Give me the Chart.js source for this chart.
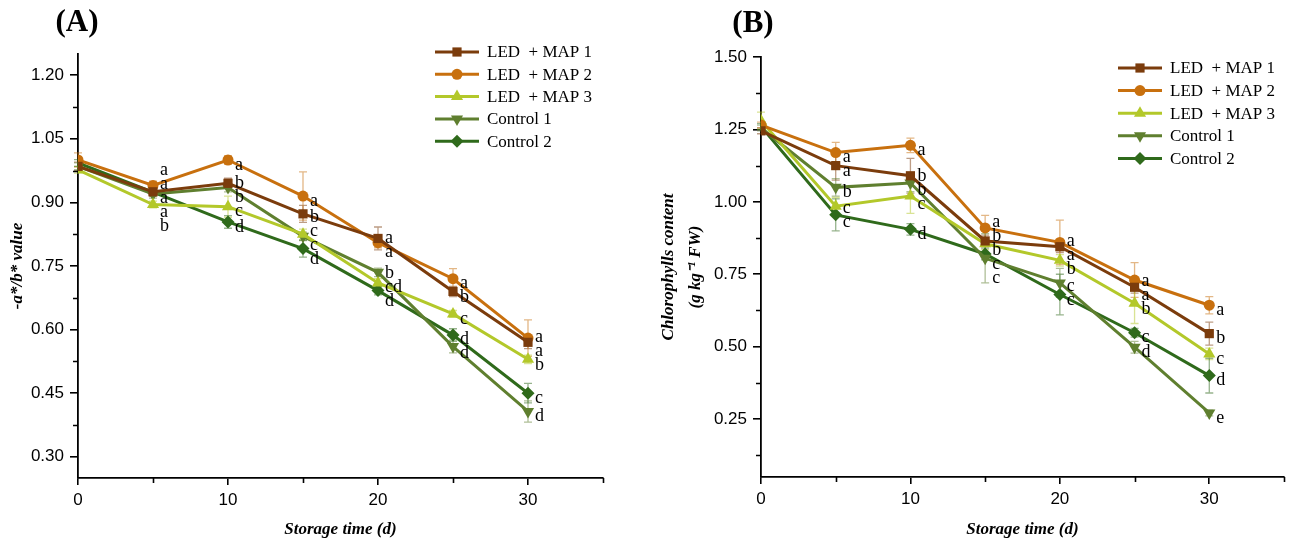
<!DOCTYPE html>
<html>
<head>
<meta charset="utf-8">
<script src="https://cdn.jsdelivr.net/npm/chart.js@4"></script>
<style>
  body { margin: 0; background: #fff; }
  #wrap { position: relative; width: 1291px; height: 544px; }
  canvas { position: absolute; top: 0; }
  #chartA { left: 0; }
  #chartB { left: 645px; }
</style>
</head>
<body>
<div id="wrap">
  <canvas id="chartA" width="645" height="544"></canvas>
  <canvas id="chartB" width="646" height="544"></canvas>
</div>
<script>
const days = [0, 5, 10, 15, 20, 25, 30];
const seriesNames = ['LED  + MAP 1', 'LED  + MAP 2', 'LED  + MAP 3', 'Control 1', 'Control 2'];

// (A) -a*/b* value
const aMap1 = [0.985, 0.925, 0.945, 0.873, 0.815, 0.69, 0.57];
const aMap2 = [1.00, 0.94, 1.00, 0.915, 0.805, 0.72, 0.58];
const aMap3 = [0.977, 0.895, 0.89, 0.825, 0.71, 0.637, 0.53];
const aCtl1 = [0.985, 0.92, 0.935, 0.82, 0.735, 0.56, 0.407];
const aCtl2 = [0.993, 0.924, 0.854, 0.791, 0.692, 0.587, 0.45];
const aMap1Err = [0.01, 0.01, 0.012, 0.02, 0.027, 0.012, 0.015];
const aMap2Err = [0.017, 0.01, 0.01, 0.057, 0.012, 0.024, 0.043];
const aMap3Err = [0.008, 0.008, 0.025, 0.012, 0.01, 0.008, 0.01];
const aCtl1Err = [0.008, 0.01, 0.01, 0.01, 0.01, 0.015, 0.025];
const aCtl2Err = [0.008, 0.008, 0.015, 0.02, 0.01, 0.015, 0.023];
const aMap1Sig = ['', 'a', 'b', 'b', 'a', 'b', 'a'];
const aMap2Sig = ['', 'a', 'a', 'a', 'a', 'a', 'a'];
const aMap3Sig = ['', 'b', 'c', 'c', 'cd', 'c', 'b'];
const aCtl1Sig = ['', 'a', 'b', 'c', 'b', 'd', 'd'];
const aCtl2Sig = ['', 'a', 'd', 'd', 'd', 'd', 'c'];
const aTicks = [0.30, 0.45, 0.60, 0.75, 0.90, 1.05, 1.20];

// (B) chlorophylls content
const bMap1 = [1.245, 1.125, 1.09, 0.865, 0.845, 0.705, 0.545];
const bMap2 = [1.265, 1.17, 1.195, 0.91, 0.86, 0.73, 0.643];
const bMap3 = [1.28, 0.985, 1.02, 0.855, 0.798, 0.65, 0.475];
const bCtl1 = [1.255, 1.05, 1.065, 0.805, 0.72, 0.498, 0.271];
const bCtl2 = [1.26, 0.955, 0.905, 0.82, 0.68, 0.548, 0.40];
const bMap1Err = [0.01, 0.05, 0.06, 0.02, 0.02, 0.02, 0.04];
const bMap2Err = [0.01, 0.035, 0.025, 0.043, 0.077, 0.06, 0.03];
const bMap3Err = [0.03, 0.03, 0.06, 0.02, 0.02, 0.07, 0.02];
const bCtl1Err = [0.01, 0.03, 0.03, 0.085, 0.05, 0.02, 0.01];
const bCtl2Err = [0.01, 0.055, 0.02, 0.02, 0.07, 0.015, 0.06];
const bMap1Sig = ['', 'a', 'b', 'b', 'a', 'a', 'b'];
const bMap2Sig = ['', 'a', 'a', 'a', 'a', 'a', 'a'];
const bMap3Sig = ['', 'c', 'c', 'b', 'b', 'b', 'c'];
const bCtl1Sig = ['', 'b', 'b', 'c', 'c', 'd', 'e'];
const bCtl2Sig = ['', 'c', 'd', 'c', 'c', 'c', 'd'];
const bTicks = [0.25, 0.50, 0.75, 1.00, 1.25, 1.50];

const xTicks = [0, 10, 20, 30];
const xMinor = [5, 15, 25, 35];

const colors = ['#7b3c0c', '#c8700e', '#b3c82a', '#5f7f2f', '#2f6a1b'];
const errColors = ['rgba(123,60,12,0.5)', 'rgba(200,112,14,0.5)', 'rgba(179,200,42,0.5)', 'rgba(95,127,47,0.5)', 'rgba(47,106,27,0.5)'];
const markers = [
  { style: 'rect', radius: 6.5, rotation: 0 },
  { style: 'circle', radius: 5.5, rotation: 0 },
  { style: 'triangle', radius: 7, rotation: 0 },
  { style: 'triangle', radius: 7, rotation: 180 },
  { style: 'rectRot', radius: 6.5, rotation: 0 }
];

const serif = "'Liberation Serif', 'Times New Roman', serif";
const sans = "'Liberation Sans', Arial, sans-serif";

function makeDatasets(vals, errs, sigs) {
  return vals.map((v, k) => ({
    label: seriesNames[k],
    data: days.map((d, i) => ({ x: d, y: v[i] })),
    err: errs[k],
    sig: sigs[k],
    errColor: errColors[k],
    borderColor: colors[k],
    backgroundColor: colors[k],
    borderWidth: 3,
    pointStyle: markers[k].style,
    pointRadius: markers[k].radius,
    pointRotation: markers[k].rotation,
    pointBorderWidth: 0,
    pointHoverRadius: markers[k].radius,
    tension: 0
  }));
}

// spread letters of one day so they don't sit on top of each other,
// keeping each group centred on its points
function spreadLabels(items, gap) {
  let groups = items.map(it => ({ members: [it], mean: it.y }));
  const place = g => { g.start = g.mean - (g.members.length - 1) * gap / 2; };
  groups.forEach(place);
  let merged = true;
  while (merged) {
    merged = false;
    for (let k = 0; k < groups.length - 1; k++) {
      const a = groups[k], b = groups[k + 1];
      if (a.start + a.members.length * gap > b.start) {
        const members = a.members.concat(b.members);
        const g = { members, mean: members.reduce((s, m) => s + m.y, 0) / members.length };
        place(g);
        groups.splice(k, 2, g);
        merged = true;
        break;
      }
    }
  }
  groups.forEach(g => g.members.forEach((m, j) => { m.py = g.start + j * gap; }));
}

const extras = {
  id: 'extras',
  beforeDatasetsDraw(chart) {
    const ctx = chart.ctx, xs = chart.scales.x, ys = chart.scales.y;
    chart.data.datasets.forEach(ds => {
      ctx.save();
      ctx.strokeStyle = ds.errColor;
      ctx.lineWidth = 1.3;
      ds.err.forEach((e, i) => {
        const px = xs.getPixelForValue(ds.data[i].x);
        const top = ys.getPixelForValue(ds.data[i].y + e);
        const bot = ys.getPixelForValue(ds.data[i].y - e);
        ctx.beginPath();
        ctx.moveTo(px, top); ctx.lineTo(px, bot);
        ctx.moveTo(px - 4, top); ctx.lineTo(px + 4, top);
        ctx.moveTo(px - 4, bot); ctx.lineTo(px + 4, bot);
        ctx.stroke();
      });
      ctx.restore();
    });
  },
  afterDatasetsDraw(chart) {
    const ctx = chart.ctx, xs = chart.scales.x, ys = chart.scales.y;
    ctx.save();
    ctx.font = '18px ' + serif;
    ctx.fillStyle = '#000';
    ctx.textAlign = 'left';
    ctx.textBaseline = 'middle';
    days.forEach((d, i) => {
      const items = chart.data.datasets
        .filter(ds => ds.sig[i])
        .map(ds => ({ t: ds.sig[i], y: ys.getPixelForValue(ds.data[i].y) + 5 }))
        .sort((p, q) => p.y - q.y);
      spreadLabels(items, 14);
      const px = xs.getPixelForValue(d) + 7;
      items.forEach(it => ctx.fillText(it.t, px, it.py));
    });
    ctx.restore();
  },
  afterDraw(chart, args, opts) {
    const ctx = chart.ctx, xs = chart.scales.x, ys = chart.scales.y;
    ctx.save();
    // minor ticks
    ctx.strokeStyle = '#000';
    ctx.lineWidth = 1.6;
    ctx.beginPath();
    opts.yMinor.forEach(v => {
      const py = Math.round(ys.getPixelForValue(v)) + 0.5;
      ctx.moveTo(xs.left - 5, py); ctx.lineTo(xs.left, py);
    });
    xMinor.forEach(v => {
      const px = Math.round(xs.getPixelForValue(v)) + 0.5;
      ctx.moveTo(px, ys.bottom); ctx.lineTo(px, ys.bottom + 5);
    });
    ctx.stroke();

    // legend
    const lg = opts.legend;
    chart.data.datasets.forEach((ds, k) => {
      const y = lg.y + k * lg.step;
      ctx.strokeStyle = ds.borderColor;
      ctx.lineWidth = 3;
      ctx.beginPath();
      ctx.moveTo(lg.x, y); ctx.lineTo(lg.x + 44, y);
      ctx.stroke();
      ctx.fillStyle = ds.borderColor;
      Chart.helpers.drawPoint(ctx, {
        pointStyle: ds.pointStyle, radius: ds.pointRadius, rotation: ds.pointRotation, borderWidth: 0
      }, lg.x + 22, y);
      ctx.fillStyle = '#000';
      ctx.font = '17px ' + serif;
      ctx.textAlign = 'left';
      ctx.textBaseline = 'middle';
      ctx.fillText(ds.label, lg.x + 52, y + 1);
    });

    // panel label
    ctx.fillStyle = '#000';
    ctx.font = 'bold 31px ' + serif;
    ctx.textAlign = 'center';
    ctx.textBaseline = 'middle';
    ctx.fillText(opts.panel.text, opts.panel.x, opts.panel.y);
    ctx.restore();
  }
};

function makeChart(id, datasets, yMin, yMax, yTicks, yMinor, yTitle, geo) {
  return new Chart(document.getElementById(id), {
    type: 'line',
    data: { datasets },
    plugins: [extras],
    options: {
      responsive: false,
      animation: false,
      events: [],
      layout: { padding: { top: geo.top, right: geo.right, left: 0, bottom: 0 } },
      plugins: {
        legend: { display: false },
        tooltip: { enabled: false },
        extras: { yMinor, legend: geo.legend, panel: geo.panel }
      },
      scales: {
        x: {
          type: 'linear',
          min: 0, max: 35,
          afterBuildTicks: s => { s.ticks = xTicks.map(v => ({ value: v })); },
          afterFit: s => { s.height = geo.xHeight; },
          grid: { drawOnChartArea: false, color: '#000', lineWidth: 1.6, tickLength: 7 },
          border: { color: '#000', width: 1.8 },
          ticks: { color: '#000', font: { family: sans, size: 17 }, padding: 5, maxRotation: 0 },
          title: {
            display: true, text: 'Storage time (d)', color: '#000',
            font: { family: serif, size: 17, style: 'italic', weight: 'bold' },
            padding: { top: 0, bottom: 4 }
          }
        },
        y: {
          min: yMin, max: yMax,
          afterBuildTicks: s => { s.ticks = yTicks.map(v => ({ value: v })); },
          afterFit: s => { s.width = geo.yWidth; },
          grid: { drawOnChartArea: false, color: '#000', lineWidth: 1.6, tickLength: 8 },
          border: { color: '#000', width: 1.8 },
          ticks: {
            color: '#000', font: { family: sans, size: 17 }, padding: 6,
            callback: v => Number(v).toFixed(2)
          },
          title: {
            display: true, text: yTitle, color: '#000',
            font: { family: serif, size: 17, style: 'italic', weight: 'bold', lineHeight: geo.titleLH },
            padding: { top: geo.titlePad, bottom: 0 }
          }
        }
      }
    }
  });
}

makeChart('chartA',
  makeDatasets([aMap1, aMap2, aMap3, aCtl1, aCtl2],
    [aMap1Err, aMap2Err, aMap3Err, aCtl1Err, aCtl2Err],
    [aMap1Sig, aMap2Sig, aMap3Sig, aCtl1Sig, aCtl2Sig]),
  0.25, 1.25, aTicks, [0.375, 0.525, 0.675, 0.825, 0.975, 1.125],
  '-a*/b* value',
  { top: 54, right: 42, xHeight: 66, yWidth: 78, titleLH: 1.2, titlePad: 7,
    legend: { x: 435, y: 52, step: 22.3 }, panel: { text: '(A)', x: 77, y: 23 } });

makeChart('chartB',
  makeDatasets([bMap1, bMap2, bMap3, bCtl1, bCtl2],
    [bMap1Err, bMap2Err, bMap3Err, bCtl1Err, bCtl2Err],
    [bMap1Sig, bMap2Sig, bMap3Sig, bCtl1Sig, bCtl2Sig]),
  0.05, 1.50, bTicks, [0.125, 0.375, 0.625, 0.875, 1.125, 1.375],
  ['Chlorophylls content', '(g kg\u207B\u00B9 FW)'],
  { top: 57, right: 6, xHeight: 67, yWidth: 116, titleLH: 1.6, titlePad: 10,
    legend: { x: 473, y: 68, step: 22.6 }, panel: { text: '(B)', x: 753 - 645, y: 24 } });
</script>
</body>
</html>
